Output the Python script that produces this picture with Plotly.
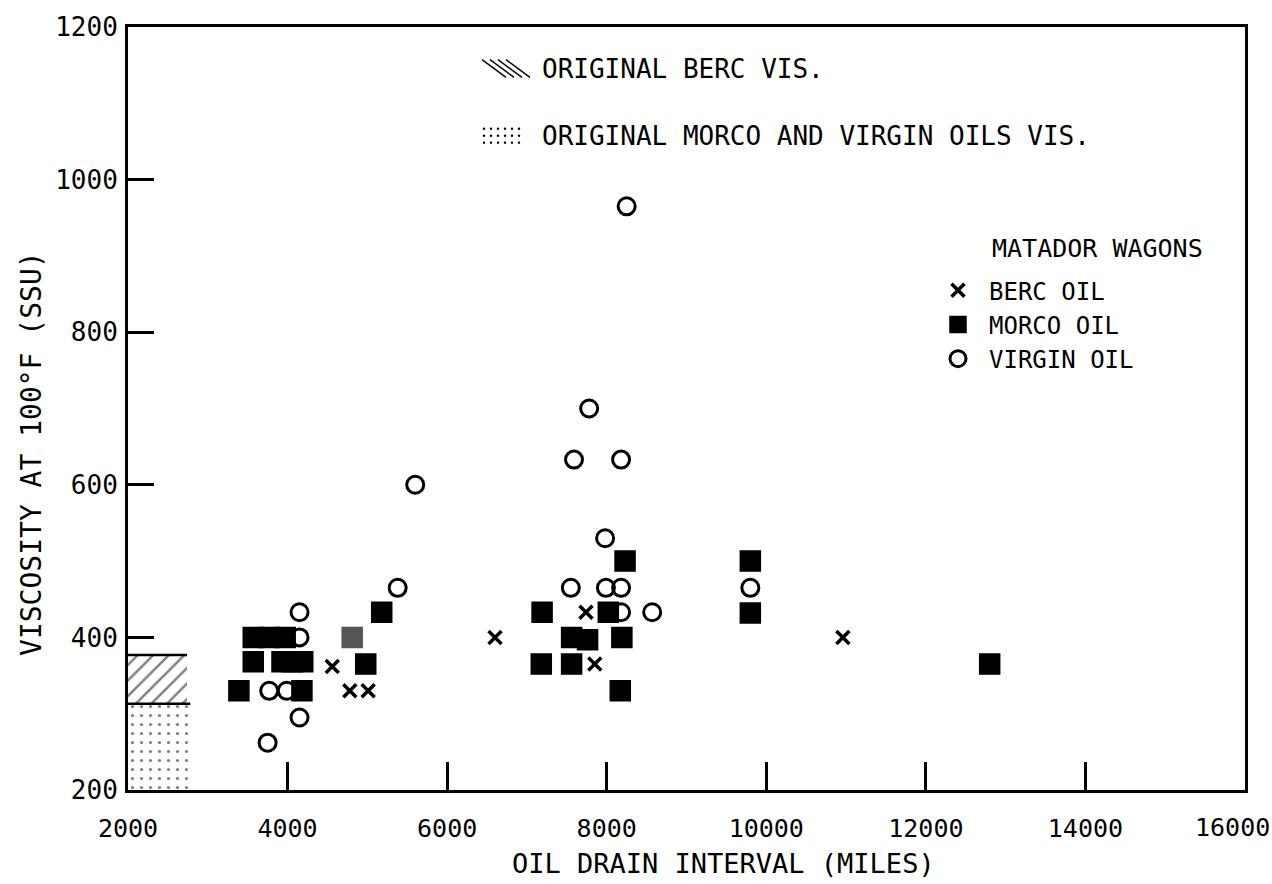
import plotly.graph_objects as go

# ---------------- data ----------------
BERC_X = [4560, 4780, 5010, 6600, 7740, 7850, 10960]
BERC_Y = [362, 330, 330, 400, 433, 365, 400]

MORCO_X = [3390, 3570, 3770, 3970, 3570, 3930, 4060, 4190, 4180, 4810, 4980, 5180,
           7190, 8020, 7560, 7760, 8190, 7180, 7560, 8170, 8230, 9800, 9800, 12800]
MORCO_Y = [330, 400, 400, 400, 368, 368, 368, 368, 330, 400, 365, 433,
           433, 433, 400, 397, 400, 365, 365, 330, 500, 500, 432, 365]

VIRGIN_X = [8250, 5600, 7780, 7590, 8180, 5380, 7980, 7550, 7990, 8180, 8180, 8570,
            9800, 4150, 4150, 3770, 3990, 4150, 3750]
VIRGIN_Y = [965, 600, 700, 633, 633, 465, 530, 465, 465, 465, 433, 433,
            465, 433, 400, 330, 330, 295, 262]

# original (new-oil) viscosity bands
ORIG_BERC_RANGE = [313, 377]
ORIG_MORCO_VIRGIN_RANGE = [200, 313]
ORIG_BAND_X = [2000, 2760]

X_TICKS = [2000, 4000, 6000, 8000, 10000, 12000, 14000, 16000]
Y_TICKS = [200, 400, 600, 800, 1000, 1200]
X_RANGE = [2000, 16000]
Y_RANGE = [200, 1200]

# ---------------- styling ----------------
W, H = 1272, 884
ML, MR, MT, MB = 128, 27, 18, 94
PW, PH = W - ML - MR, H - MT - MB
FONT = "DejaVu Sans Mono"


def px(xp):
    return (xp - ML) / PW


def py(yp):
    return (H - MB - yp) / PH


fig = go.Figure()

# hatched band (original BERC vis.)
bx0, bx1 = ORIG_BAND_X
b0, b1 = ORIG_BERC_RANGE
fig.add_trace(go.Scatter(
    x=[bx0, bx0, bx1 - 20, bx1 - 20, bx0], y=[b0, b1, b1, b0, b0],
    mode="lines", fill="toself", line=dict(width=0), fillcolor="white",
    fillpattern=dict(shape="/", size=11, solidity=0.22, fgcolor="black", bgcolor="white"),
    showlegend=False, hoverinfo="skip"))
# dotted band (original Morco & virgin vis.)
m0, m1 = ORIG_MORCO_VIRGIN_RANGE
fig.add_trace(go.Scatter(
    x=[bx0, bx0, bx1 + 20, bx1 + 20, bx0], y=[m0, m1, m1, m0, m0],
    mode="lines", fill="toself", line=dict(width=0), fillcolor="white",
    fillpattern=dict(shape=".", size=9, solidity=0.1, fgcolor="black", bgcolor="white"),
    showlegend=False, hoverinfo="skip"))
# band borders
fig.add_trace(go.Scatter(x=[bx0, bx1 - 20], y=[b1, b1], mode="lines",
                         line=dict(color="black", width=2.5), showlegend=False, hoverinfo="skip"))
fig.add_trace(go.Scatter(x=[bx0, bx1 + 20], y=[b0, b0], mode="lines",
                         line=dict(color="black", width=2.5), showlegend=False, hoverinfo="skip"))

# data
fig.add_trace(go.Scatter(
    x=BERC_X, y=BERC_Y, mode="markers", name="BERC OIL",
    marker=dict(symbol="x-thin", size=13, color="black", line=dict(width=3.5, color="black"))))
morco_colors = ["black"] * len(MORCO_X)
morco_colors[9] = "#555555"
fig.add_trace(go.Scatter(
    x=MORCO_X, y=MORCO_Y, mode="markers", name="MORCO OIL",
    marker=dict(symbol="square", size=20, color=morco_colors, line=dict(width=1.5, color=morco_colors))))
fig.add_trace(go.Scatter(
    x=VIRGIN_X, y=VIRGIN_Y, mode="markers", name="VIRGIN OIL",
    marker=dict(symbol="circle-open", size=17, color="black", line=dict(width=3, color="black"))))

# top legend swatches (hatch lines and dots)
shapes = []
for x0 in [482, 490, 498, 506]:
    shapes.append(dict(type="line", xref="paper", yref="paper",
                       x0=px(x0), y0=py(51), x1=px(x0 + 24), y1=py(69),
                       line=dict(color="black", width=1.4)))
for cx in [484, 491, 498, 505, 512, 519]:
    for cy in [121, 128, 135]:
        shapes.append(dict(type="circle", xref="paper", yref="paper",
                           x0=px(cx - 1.2), x1=px(cx + 1.2), y0=py(cy + 1.2), y1=py(cy - 1.2),
                           fillcolor="black", line=dict(width=0)))

annotations = [
    dict(text="ORIGINAL BERC VIS.", x=px(540), y=py(60), xref="paper", yref="paper",
         xanchor="left", yanchor="middle", showarrow=False, font=dict(family=FONT, size=26, color="black")),
    dict(text="ORIGINAL MORCO AND VIRGIN OILS VIS.", x=px(540), y=py(128), xref="paper", yref="paper",
         xanchor="left", yanchor="middle", showarrow=False, font=dict(family=FONT, size=26, color="black")),
    dict(text="MATADOR WAGONS", x=px(990), y=py(242), xref="paper", yref="paper",
         xanchor="left", yanchor="middle", showarrow=False, font=dict(family=FONT, size=25, color="black")),
    dict(text="OIL DRAIN INTERVAL (MILES)", x=px(723), y=py(864), xref="paper", yref="paper",
         xanchor="center", yanchor="middle", showarrow=False, font=dict(family=FONT, size=27, color="black")),
    dict(text="VISCOSITY AT 100°F (SSU)", x=px(32), y=py(450), xref="paper", yref="paper",
         xanchor="center", yanchor="middle", textangle=-90, showarrow=False,
         font=dict(family=FONT, size=28, color="black")),
    dict(text=str(X_TICKS[-1]), x=px(1232), y=py(828), xref="paper", yref="paper",
         xanchor="center", yanchor="middle", showarrow=False, font=dict(family=FONT, size=25, color="black")),
]

x_ticktext = [str(v) for v in X_TICKS]
x_ticktext[-1] = ""  # last label drawn as annotation (shifted inside the page, as in the original)

fig.update_layout(
    width=W, height=H, autosize=False,
    margin=dict(l=ML, r=MR, t=MT, b=MB, pad=0),
    paper_bgcolor="white", plot_bgcolor="white",
    shapes=shapes, annotations=annotations,
    showlegend=True,
    legend=dict(x=px(927), y=py(262), xanchor="left", yanchor="top",
                bgcolor="rgba(0,0,0,0)", borderwidth=0, tracegroupgap=0, itemwidth=52,
                font=dict(family=FONT, size=24, color="black"), itemsizing="trace"),
    xaxis=dict(range=X_RANGE, tickvals=X_TICKS, ticktext=x_ticktext,
               ticks="inside", ticklen=28, tickwidth=2.5, tickcolor="black",
               showline=True, mirror=True, linewidth=3, linecolor="black",
               showgrid=False, zeroline=False, ticklabelstandoff=14,
               tickfont=dict(family=FONT, size=25, color="black")),
    yaxis=dict(range=Y_RANGE, tickvals=Y_TICKS, ticktext=[str(v) for v in Y_TICKS],
               ticks="inside", ticklen=26, tickwidth=2.5, tickcolor="black",
               showline=True, mirror=True, linewidth=3, linecolor="black",
               showgrid=False, zeroline=False, ticklabelstandoff=2,
               tickfont=dict(family=FONT, size=26, color="black")),
)

fig.write_html("out.html", config={"displayModeBar": False})
